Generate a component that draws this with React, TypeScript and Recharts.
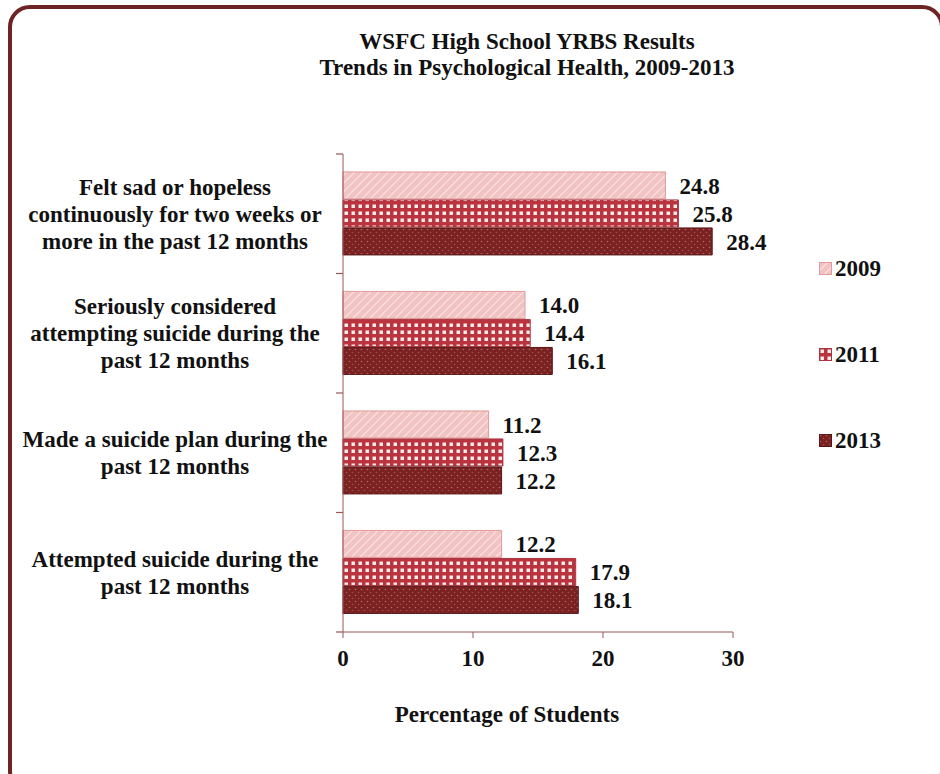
import { BarChart, Bar, XAxis, YAxis, LabelList, Label } from 'recharts';

const categories = [
  'Felt sad or hopeless\ncontinuously for two weeks or\nmore in the past 12 months',
  'Seriously considered\nattempting suicide during the\npast 12 months',
  'Made a suicide plan during the\npast 12 months',
  'Attempted suicide during the\npast 12 months',
];
const years = ['2009', '2011', '2013'];
const v2009 = [24.8, 14.0, 11.2, 12.2];
const v2011 = [25.8, 14.4, 12.3, 17.9];
const v2013 = [28.4, 16.1, 12.2, 18.1];
const xTicks = [0, 10, 20, 30];

const data = categories.map((name, i) => ({
  name,
  y2009: v2009[i],
  y2011: v2011[i],
  y2013: v2013[i],
}));

const FONT = '"Liberation Serif", "Times New Roman", serif';
const AXIS = '#9a5656';
const FS = 23;

const seriesStyle: Record<string, { fill: string; stroke: string }> = {
  '2009': { fill: 'url(#p2009)', stroke: '#e29a9a' },
  '2011': { fill: 'url(#p2011)', stroke: '#a83440' },
  '2013': { fill: 'url(#p2013)', stroke: '#5a1616' },
};

const fmt = (v: any) => Number(v).toFixed(1);

function CategoryTick(props: any) {
  const { x, y, payload, index } = props;
  const lines = String(payload.value).split('\n');
  const half = payload.offset ?? 0;
  const top = y - (lines.length - 1) * 13.5;
  return (
    <g>
      <line x1={x - 7} x2={x} y1={y - half} y2={y - half} stroke={AXIS} strokeWidth={1.2} />
      {index === categories.length - 1 && (
        <line x1={x - 7} x2={x} y1={y + half} y2={y + half} stroke={AXIS} strokeWidth={1.2} />
      )}
      <text
        x={x - 168}
        y={top}
        textAnchor="middle"
        fontFamily={FONT}
        fontWeight="bold"
        fontSize={FS}
        fill="#111"
      >
        {lines.map((l, i) => (
          <tspan key={i} x={x - 168} dy={i === 0 ? '0.35em' : 27}>
            {l}
          </tspan>
        ))}
      </text>
    </g>
  );
}

export default function App() {
  return (
    <div style={{ position: 'absolute', left: 0, top: 0, width: 940, height: 774, overflow: 'hidden', background: '#fff' }}>
      <div
        style={{
          position: 'absolute',
          left: 8,
          top: 5,
          width: 928,
          height: 780,
          border: '4px solid #6e2424',
          borderRadius: 22,
        }}
      />
      <div
        style={{
          position: 'absolute',
          left: 227,
          top: 29,
          width: 600,
          textAlign: 'center',
          fontFamily: FONT,
          fontWeight: 'bold',
          fontSize: FS,
          lineHeight: '26px',
          color: '#111',
        }}
      >
        WSFC High School YRBS Results
        <br />
        Trends in Psychological Health, 2009-2013
      </div>
      <div style={{ position: 'absolute', left: 0, top: 0 }}>
        <BarChart
          width={940}
          height={774}
          data={data}
          layout="vertical"
          margin={{ top: 154, right: 207, bottom: 52, left: 10 }}
          barCategoryGap="15%"
          barGap={1}
        >
          <defs>
            <pattern id="p2009" width="6" height="6" patternUnits="userSpaceOnUse" patternTransform="rotate(45)">
              <rect width="6" height="6" fill="#f1c3c3" />
              <line x1="0" y1="0" x2="0" y2="6" stroke="#fbe7e7" strokeWidth="2" />
            </pattern>
            <pattern id="p2011" width="7" height="7" patternUnits="userSpaceOnUse">
              <rect width="7" height="7" fill="#b9343f" />
              <rect x="1.5" y="1.5" width="3.5" height="3.5" fill="#fbeaea" />
            </pattern>
            <pattern id="p2013" width="6" height="6" patternUnits="userSpaceOnUse">
              <rect width="6" height="6" fill="#7a2222" />
              <circle cx="1.5" cy="1.5" r="0.8" fill="#b76464" />
              <circle cx="4.5" cy="4.5" r="0.8" fill="#a04c4c" />
            </pattern>
          </defs>
          <XAxis
            type="number"
            domain={[0, 30]}
            ticks={xTicks}
            height={90}
            stroke={AXIS}
            tickSize={6}
            tickMargin={12}
            tick={{ fontFamily: FONT, fontWeight: 'bold', fontSize: FS, fill: '#111' }}
          >
            <Label
              value="Percentage of Students"
              position="insideBottom"
              offset={0}
              dx={-31}
              style={{ fontFamily: FONT, fontWeight: 'bold', fontSize: FS, fill: '#111' }}
            />
          </XAxis>
          <YAxis
            type="category"
            dataKey="name"
            width={333}
            stroke={AXIS}
            tickLine={false}
            tickSize={0}
            tickMargin={0}
            interval={0}
            tick={<CategoryTick />}
          />
          {years.map((yr) => (
            <Bar
              key={yr}
              dataKey={`y${yr}`}
              fill={seriesStyle[yr].fill}
              stroke={seriesStyle[yr].stroke}
              strokeWidth={1}
              isAnimationActive={false}
            >
              <LabelList
                dataKey={`y${yr}`}
                position="right"
                offset={14}
                formatter={fmt}
                style={{ fontFamily: FONT, fontWeight: 'bold', fontSize: FS, fill: '#111' }}
              />
            </Bar>
          ))}
        </BarChart>
      </div>
      {years.map((yr, i) => (
        <div
          key={yr}
          style={{
            position: 'absolute',
            left: 819,
            top: 256 + i * 86,
            display: 'flex',
            alignItems: 'center',
            fontFamily: FONT,
            fontWeight: 'bold',
            fontSize: FS,
            color: '#111',
          }}
        >
          <svg width={14} height={14} style={{ marginRight: 2 }}>
            <rect x={0.5} y={0.5} width={12} height={12} fill={seriesStyle[yr].fill} stroke={seriesStyle[yr].stroke} />
          </svg>
          {yr}
        </div>
      ))}
    </div>
  );
}
